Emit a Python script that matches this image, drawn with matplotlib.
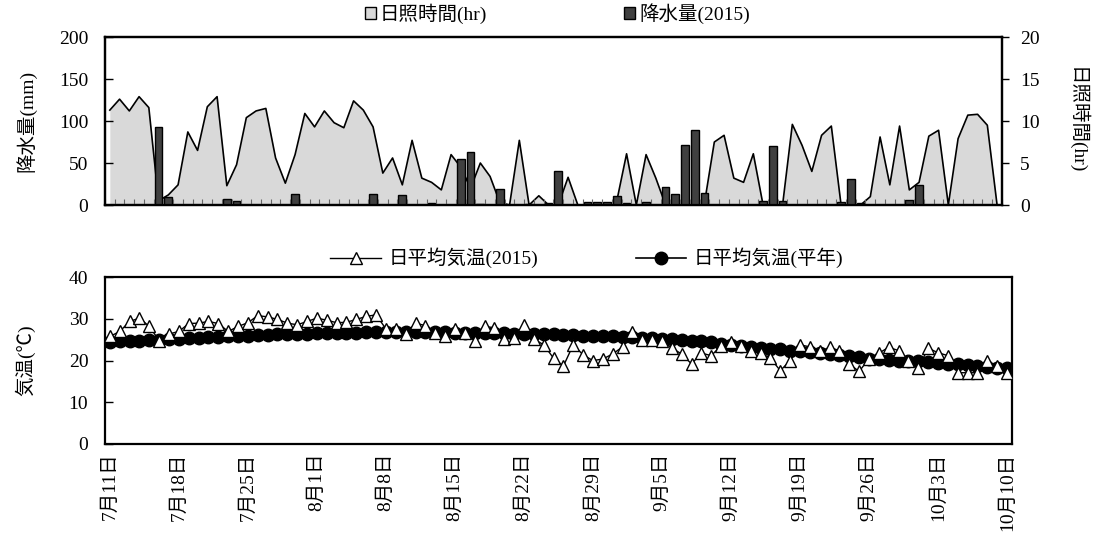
import numpy as np
import pandas as pd
import matplotlib
matplotlib.use('Agg')
import matplotlib.pyplot as plt
from matplotlib.patches import Patch
from matplotlib.lines import Line2D

plt.rcParams['font.family'] = ['Liberation Serif', 'Noto Sans CJK JP']
plt.rcParams['font.size'] = 14

# 2015-07-11 .. 2015-10-10 (92 days)
dates = pd.date_range('2015-07-11', '2015-10-10', freq='D')

# sunshine hours (hr)
sunshine = [11.3, 12.6, 11.2, 12.9, 11.6, 0.5, 1.2, 2.4, 8.7, 6.5,
            11.7, 12.9, 2.3, 4.8, 10.4, 11.2, 11.5, 5.6, 2.6, 6.0,
            10.9, 9.3, 11.2, 9.8, 9.2, 12.4, 11.3, 9.3, 3.8, 5.6,
            2.4, 7.7, 3.2, 2.7, 1.8, 6.0, 4.5, 2.0, 5.0, 3.4,
            0.3, 0.0, 7.7, 0.0, 1.1, 0.0, 0.0, 3.3, 0.0, 0.0,
            0.0, 0.0, 0.5, 6.1, 0.0, 6.0, 3.2, 0.0, 0.0, 0.0,
            0.0, 0.3, 7.5, 8.3, 3.2, 2.7, 6.1, 0.0, 0.0, 0.0,
            9.6, 7.1, 4.0, 8.3, 9.4, 0.0, 0.0, 0.0, 1.0, 8.1,
            2.4, 9.4, 1.8, 2.7, 8.2, 8.9, 0.0, 7.9, 10.7, 10.8,
            9.5, 0.0]

# precipitation 2015 (mm)
precip = [0, 0, 0, 0, 0, 93, 10, 0, 0, 0,
          0, 0, 7, 5, 0, 0, 0, 0, 0, 13,
          0, 0, 0, 0, 0, 0, 0, 13, 0, 0,
          12, 0, 0, 2, 0, 0, 55, 63, 1, 0,
          19, 0, 0, 1, 0, 2, 40, 0, 0, 3,
          3, 3, 11, 2, 0, 3, 0, 22, 13, 71,
          89, 14, 0, 0, 0, 0, 0, 5, 70, 5,
          0, 0, 0, 0, 0, 3, 31, 2, 0, 0,
          0, 0, 6, 24, 0, 0, 0, 0, 0, 0,
          0, 0]

# daily mean temperature 2015 (C)
temp_2015 = [25.8, 27.0, 29.4, 30.2, 28.2, 24.8, 26.4, 27.0, 28.9, 29.0,
             29.4, 28.9, 27.0, 28.2, 29.1, 30.8, 30.5, 29.9, 29.0, 28.6,
             29.4, 30.2, 29.7, 29.1, 29.2, 29.9, 30.6, 31.0, 27.6, 27.6,
             26.4, 29.0, 28.4, 26.7, 25.8, 27.6, 26.6, 24.8, 28.2, 27.9,
             25.2, 25.4, 28.6, 25.2, 23.8, 20.6, 18.7, 23.8, 21.4, 20.0,
             20.4, 21.6, 23.3, 26.8, 25.0, 25.0, 24.8, 23.0, 21.6, 19.2,
             21.8, 21.2, 23.6, 24.4, 23.4, 22.2, 21.8, 20.6, 17.6, 20.0,
             23.8, 23.3, 22.2, 23.2, 22.4, 19.2, 17.4, 20.5, 21.8, 23.2,
             22.4, 20.0, 18.2, 23.0, 21.9, 21.2, 17.1, 17.1, 17.1, 20.0,
             18.6, 17.0]

# daily mean temperature, normal (C)
temp_normal = [24.5, 24.6, 24.7, 24.8, 24.9, 25.0, 25.1, 25.3, 25.4, 25.5,
               25.6, 25.7, 25.8, 25.9, 26.0, 26.1, 26.2, 26.3, 26.4, 26.5,
               26.5, 26.6, 26.6, 26.7, 26.7, 26.7, 26.8, 26.8, 26.8, 26.8,
               26.8, 26.8, 26.8, 26.8, 26.8, 26.7, 26.7, 26.7, 26.6, 26.6,
               26.6, 26.5, 26.5, 26.4, 26.3, 26.3, 26.2, 26.1, 26.0, 26.0,
               25.9, 25.8, 25.7, 25.6, 25.5, 25.4, 25.2, 25.1, 24.9, 24.8,
               24.6, 24.4, 24.1, 23.8, 23.5, 23.3, 23.1, 22.9, 22.7, 22.4,
               22.2, 22.0, 21.8, 21.5, 21.3, 21.0, 20.8, 20.5, 20.3, 20.1,
               20.0, 19.9, 19.8, 19.7, 19.5, 19.3, 19.1, 18.9, 18.7, 18.5,
               18.3, 18.2]

x = np.arange(len(dates))
tick_idx = x[::7]
tick_labels = [f'{d.month}月{d.day}日' for d in dates[::7]]

fig = plt.figure(figsize=(10.99, 5.47), dpi=100)

# ---- top panel: precipitation bars + sunshine area ----
ax = fig.add_axes([0.0955, 0.6252, 0.8162, 0.3071])
ax2 = ax.twinx()
ax2.fill_between(x, sunshine, 0, color='#d9d9d9', lw=0)
ax2.plot(x, sunshine, color='black', lw=1.2)
ax2.set_ylim(0, 20)
ax2.set_yticks(range(0, 21, 5))
ax2.tick_params(axis='y', direction='out', length=5, width=1, pad=8)
ax2.set_ylabel('日照時間(hr)', rotation=270, labelpad=34)

ax.bar(x, precip, width=0.8, color='#404040', edgecolor='black', lw=1.0)
ax.set_zorder(ax2.get_zorder() + 1)
ax.patch.set_visible(False)
ax.set_ylim(0, 200)
ax.set_yticks(range(0, 201, 50))
ax.set_xlim(-0.5, len(x) - 0.5)
ax.set_xticks(np.arange(-0.5, len(x), 1))
ax.tick_params(axis='x', direction='in', length=4, color='#666666', labelbottom=False)
ax.tick_params(axis='y', direction='in', length=6, width=1, pad=12)
ax.set_ylabel('降水量(mm)', labelpad=16)
for a in (ax, ax2):
    for s in a.spines.values():
        s.set_linewidth(1.6)

fig.legend(handles=[Patch(facecolor='#d9d9d9', edgecolor='black', label='日照時間(hr)'),
                    Patch(facecolor='#404040', edgecolor='black', label='降水量(2015)')],
           loc='center', bbox_to_anchor=(0.507, 0.975), ncol=2, frameon=False,
           handlelength=0.6, handleheight=0.6, handletextpad=0.2, columnspacing=7)

# ---- bottom panel: temperatures ----
ax3 = fig.add_axes([0.0955, 0.1883, 0.8253, 0.3048])
ax3.plot(x, temp_normal, color='black', lw=1.2, marker='o', ms=9,
         mfc='black', mec='black', zorder=2)
ax3.plot(x, temp_2015, color='black', lw=1.0, marker='^', ms=8.5,
         mfc='white', mec='black', mew=1.0, zorder=3)
ax3.set_xlim(-0.5, len(x) - 0.5)
ax3.set_ylim(0, 40)
ax3.set_yticks(range(0, 41, 10))
ax3.set_xticks(tick_idx)
ax3.set_xticklabels(tick_labels, rotation=90)
ax3.tick_params(axis='x', length=0, pad=6)
ax3.tick_params(axis='y', direction='in', length=6, width=1, pad=12)
ax3.set_ylabel('気温(℃)', labelpad=24)
for s in ax3.spines.values():
    s.set_linewidth(1.6)

fig.legend(handles=[Line2D([], [], color='black', lw=1.0, marker='^', ms=8.5,
                           mfc='white', mec='black', label='日平均気温(2015)'),
                    Line2D([], [], color='black', lw=1.2, marker='o', ms=9,
                           mfc='black', mec='black', label='日平均気温(平年)')],
           loc='center', bbox_to_anchor=(0.534, 0.528), ncol=2, frameon=False,
           handlelength=2.6, handletextpad=0.4, columnspacing=5)

fig.savefig('out.png', dpi=100)
